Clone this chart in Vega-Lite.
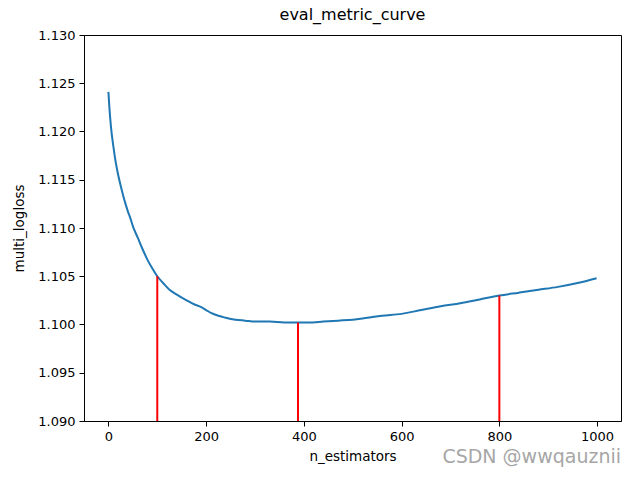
{
  "$schema": "https://vega.github.io/schema/vega-lite/v6.json",
  "autosize": {"type": "none"},
  "width": 537,
  "height": 386,
  "padding": {"left": 84, "top": 35, "right": 14, "bottom": 56},
  "background": "white",
  "config": {
    "font": "DejaVu Sans",
    "view": {"stroke": "black", "strokeWidth": 1},
    "axis": {
      "grid": false,
      "domainColor": "black",
      "tickColor": "black",
      "labelColor": "black",
      "titleColor": "black",
      "labelFont": "DejaVu Sans",
      "titleFont": "DejaVu Sans",
      "labelFontSize": 13,
      "titleFontSize": 13.5,
      "titleFontWeight": "normal",
      "tickSize": 5,
      "labelPadding": 4
    }
  },
  "title": {"text": "eval_metric_curve", "fontSize": 16, "fontWeight": "normal", "font": "DejaVu Sans", "color": "black", "offset": 6},
  "datasets": {
    "curve": [
      {"n": 0, "v": 1.1241}, {"n": 2, "v": 1.1225}, {"n": 5, "v": 1.1206}, {"n": 10, "v": 1.1185},
      {"n": 15, "v": 1.1168}, {"n": 20, "v": 1.1155}, {"n": 25, "v": 1.1144}, {"n": 30, "v": 1.1134},
      {"n": 35, "v": 1.1125}, {"n": 40, "v": 1.1117}, {"n": 45, "v": 1.1110}, {"n": 50, "v": 1.1102},
      {"n": 60, "v": 1.1090}, {"n": 70, "v": 1.1078}, {"n": 80, "v": 1.1067}, {"n": 90, "v": 1.1058},
      {"n": 100, "v": 1.1050}, {"n": 112, "v": 1.1043}, {"n": 125, "v": 1.1036}, {"n": 140, "v": 1.1031},
      {"n": 160, "v": 1.1025}, {"n": 175, "v": 1.1021}, {"n": 190, "v": 1.1018}, {"n": 200, "v": 1.1015},
      {"n": 210, "v": 1.1012}, {"n": 225, "v": 1.1009}, {"n": 240, "v": 1.1007}, {"n": 260, "v": 1.1005},
      {"n": 280, "v": 1.1004}, {"n": 300, "v": 1.1003}, {"n": 330, "v": 1.1003}, {"n": 360, "v": 1.1002},
      {"n": 388, "v": 1.1002}, {"n": 410, "v": 1.1002}, {"n": 440, "v": 1.1003}, {"n": 470, "v": 1.1004},
      {"n": 500, "v": 1.1005}, {"n": 530, "v": 1.1007}, {"n": 560, "v": 1.1009}, {"n": 600, "v": 1.1011},
      {"n": 640, "v": 1.1015}, {"n": 680, "v": 1.1019}, {"n": 720, "v": 1.1022}, {"n": 760, "v": 1.1026},
      {"n": 800, "v": 1.1030}, {"n": 840, "v": 1.1033}, {"n": 880, "v": 1.1036}, {"n": 920, "v": 1.1039},
      {"n": 960, "v": 1.1043}, {"n": 999, "v": 1.1048}
    ],
    "marks": [
      {"n": 100, "v": 1.1050}, {"n": 388, "v": 1.1002}, {"n": 800, "v": 1.1030}
    ],
    "note": [{"n": 1048.95, "v": 1.0863, "label": "CSDN @wwqauznii"}]
  },
  "layer": [
    {
      "data": {"name": "curve"},
      "mark": {"type": "line", "color": "#1f77b4", "strokeWidth": 2, "interpolate": "monotone"},
      "encoding": {
        "x": {"field": "n", "type": "quantitative", "title": "n_estimators",
              "scale": {"domain": [-49.95, 1048.95], "nice": false, "zero": false},
              "axis": {"values": [0, 200, 400, 600, 800, 1000], "format": "d", "titlePadding": 6}},
        "y": {"field": "v", "type": "quantitative", "title": "multi_logloss",
              "scale": {"domain": [1.09, 1.13], "nice": false, "zero": false},
              "axis": {"values": [1.09, 1.095, 1.1, 1.105, 1.11, 1.115, 1.12, 1.125, 1.13], "format": ".3f", "titlePadding": 11}}
      }
    },
    {
      "data": {"name": "marks"},
      "mark": {"type": "rule", "color": "red", "strokeWidth": 2},
      "encoding": {
        "x": {"field": "n", "type": "quantitative"},
        "y": {"field": "v", "type": "quantitative"},
        "y2": {"datum": 1.09}
      }
    },
    {
      "data": {"name": "note"},
      "mark": {"type": "text", "align": "right", "baseline": "middle", "fontSize": 19, "color": "#a6a6a6", "font": "DejaVu Sans", "clip": false},
      "encoding": {
        "x": {"field": "n", "type": "quantitative"},
        "y": {"field": "v", "type": "quantitative"},
        "text": {"field": "label"}
      }
    }
  ]
}
